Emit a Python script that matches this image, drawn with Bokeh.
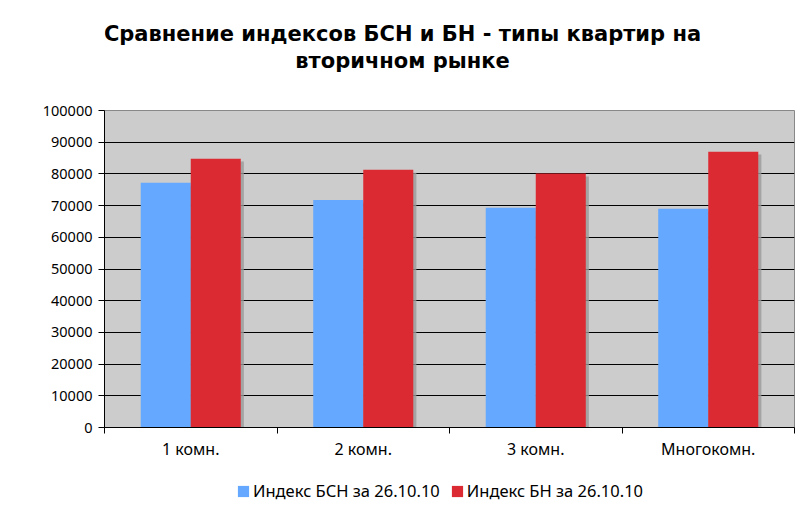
import numpy as np
from bokeh.plotting import figure
from bokeh.layouts import column
from bokeh.models import Range1d, FixedTicker, Label, Legend, LegendItem, BasicTickFormatter
from bokeh.embed import file_html
from bokeh.resources import INLINE

categories = ["1 комн.", "2 комн.", "3 комн.", "Многокомн."]
bsn = [77200, 71800, 69300, 69000]
bn = [84800, 81300, 80100, 87000]
series_names = ["Индекс БСН за 26.10.10", "Индекс БН за 26.10.10"]
title_lines = ["Сравнение индексов БСН и БН - типы квартир на", "вторичном рынке"]
y_ticks = list(range(0, 100001, 10000))

BLUE = "#64a8ff"
RED = "#dc2a32"
FONT = "Noto Sans"
TFONT = "DejaVu Sans"
W = 800
LEFT = 104  # frames of the stacked figures are aligned at this x


def blank(height):
    f = figure(width=W, height=height, output_backend="svg", toolbar_location=None,
               x_axis_location=None, y_axis_location=None,
               x_range=Range1d(0, 1), y_range=Range1d(0, 1),
               min_border_left=LEFT, min_border_right=6, min_border_top=0, min_border_bottom=0)
    f.outline_line_color = None
    f.grid.visible = False
    f.background_fill_color = "white"
    f.border_fill_color = "white"
    return f


# ---- header with the two-line title
head = blank(100)
for i, t in enumerate(title_lines):
    head.add_layout(Label(x=402 - LEFT, y=67 - i * 27, x_units="screen", y_units="screen", text=t,
                          text_font=TFONT, text_font_size="21px", text_font_style="bold",
                          text_align="center", text_baseline="middle", text_color="black"))

# ---- main chart
centers = np.arange(len(categories)) + 0.5
bw = 0.29

p = figure(width=W, height=380, output_backend="svg", toolbar_location=None,
           x_range=Range1d(0, len(categories)), y_range=Range1d(0, 100000),
           min_border_left=LEFT, min_border_right=6, min_border_top=10, min_border_bottom=53)
p.background_fill_color = "#cccccc"
p.border_fill_color = "white"
p.outline_line_color = "#888888"
p.outline_line_width = 1

p.xgrid.visible = False
p.ygrid.ticker = FixedTicker(ticks=y_ticks)
p.ygrid.grid_line_color = "black"
p.ygrid.grid_line_width = 1

# shadows
p.vbar(x=centers - bw / 2 + 0.018, top=np.array(bsn) - 900, width=bw, bottom=0,
       fill_color="#9a9a9a", line_color=None, fill_alpha=0.8)
p.vbar(x=centers + bw / 2 + 0.018, top=np.array(bn) - 900, width=bw, bottom=0,
       fill_color="#9a9a9a", line_color=None, fill_alpha=0.8)
p.vbar(x=centers - bw / 2, top=bsn, width=bw, bottom=0, fill_color=BLUE, line_color=None)
p.vbar(x=centers + bw / 2, top=bn, width=bw, bottom=0, fill_color=RED, line_color=None)

ya = p.yaxis[0]
ya.ticker = FixedTicker(ticks=y_ticks)
ya.formatter = BasicTickFormatter(use_scientific=False)
ya.axis_line_color = "black"
ya.major_tick_line_color = "black"
ya.major_tick_out = 6
ya.major_tick_in = 0
ya.minor_tick_line_color = None
ya.major_label_standoff = 6
ya.major_label_text_font = FONT
ya.major_label_text_font_size = "14.5px"
ya.major_label_text_color = "black"

xa = p.xaxis[0]
xa.ticker = FixedTicker(ticks=list(centers), minor_ticks=list(range(len(categories) + 1)))
xa.major_label_overrides = {float(c): cat for c, cat in zip(centers, categories)}
xa.axis_line_color = "black"
xa.major_tick_line_color = None
xa.major_tick_out = 0
xa.major_tick_in = 0
xa.minor_tick_line_color = "black"
xa.minor_tick_out = 6
xa.minor_tick_in = 0
xa.major_label_standoff = 4
xa.major_label_text_font = FONT
xa.major_label_text_font_size = "16px"
xa.major_label_text_color = "black"

# ---- legend strip (series renderers kept hidden; they only supply the swatches)
leg = blank(22)
lr1 = leg.vbar(x=centers, top=bsn, width=bw, fill_color=BLUE, line_color=None, visible=False)
lr2 = leg.vbar(x=centers, top=bn, width=bw, fill_color=RED, line_color=None, visible=False)
legend = Legend(items=[LegendItem(label=series_names[0], renderers=[lr1]),
                       LegendItem(label=series_names[1], renderers=[lr2])],
                orientation="horizontal", location=(236 - LEFT, 0),
                background_fill_alpha=0, border_line_color=None,
                inactive_fill_alpha=0,
                glyph_width=14, glyph_height=14, label_standoff=3, spacing=10,
                padding=0, margin=0,
                label_text_font=FONT, label_text_font_size="16.5px", label_text_color="black")
leg.add_layout(legend, "center")

layout = column(head, p, leg, spacing=0)
open("out.html", "w").write(file_html(layout, INLINE))
